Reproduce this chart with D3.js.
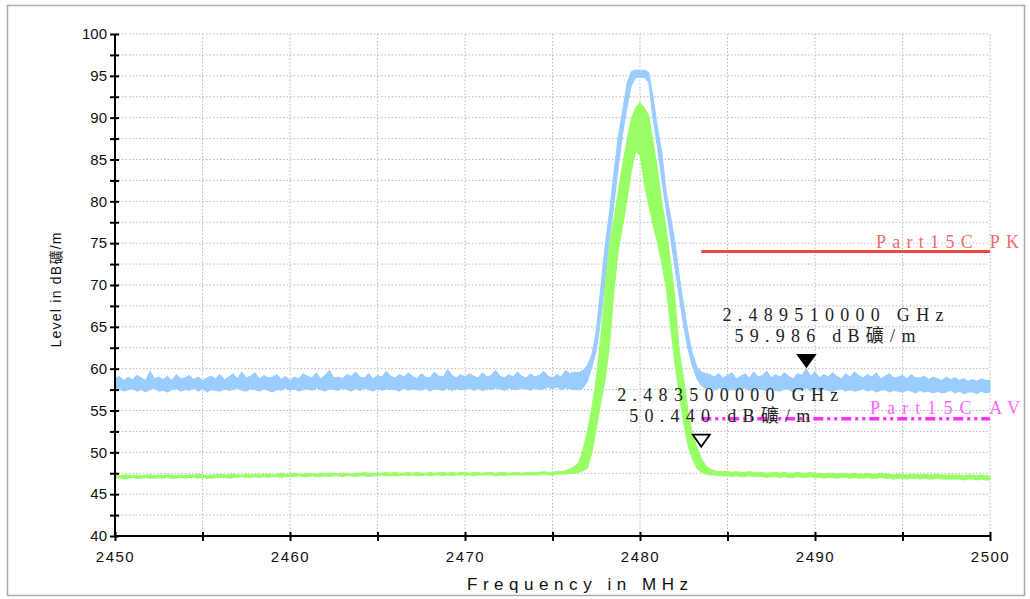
<!DOCTYPE html>
<html lang="en">
<head>
  <meta charset="UTF-8" />
  <title>Band edge scan 2450-2500 MHz</title>
  <script src="https://d3js.org/d3.v7.min.js"></script>
  <style>
    body {
      margin: 0;
      padding: 0;
      background-color: #fff;
    }
    svg {
      display: block;
    }
    .tick text {
      font-family: "Liberation Sans", Arial, sans-serif;
      font-size: 15px;
      fill: #111;
    }
    .grid line {
      stroke: #b8b8b8;
      stroke-width: 1;
      stroke-dasharray: 1.5,2;
    }
    .mk-text {
      font-family: "Liberation Serif", "DejaVu Serif", "Noto Sans CJK SC", serif;
      font-size: 18px;
      fill: #222;
    }
  </style>
</head>
<body>
  <svg id="chart" width="1030" height="599"></svg>

  <script>
    // sweep frequencies, MHz (0.25 MHz per point)
    const freqs = [
      2450,2450.25,2450.5,2450.75,2451,2451.25,2451.5,2451.75,
      2452,2452.25,2452.5,2452.75,2453,2453.25,2453.5,2453.75,
      2454,2454.25,2454.5,2454.75,2455,2455.25,2455.5,2455.75,
      2456,2456.25,2456.5,2456.75,2457,2457.25,2457.5,2457.75,
      2458,2458.25,2458.5,2458.75,2459,2459.25,2459.5,2459.75,
      2460,2460.25,2460.5,2460.75,2461,2461.25,2461.5,2461.75,
      2462,2462.25,2462.5,2462.75,2463,2463.25,2463.5,2463.75,
      2464,2464.25,2464.5,2464.75,2465,2465.25,2465.5,2465.75,
      2466,2466.25,2466.5,2466.75,2467,2467.25,2467.5,2467.75,
      2468,2468.25,2468.5,2468.75,2469,2469.25,2469.5,2469.75,
      2470,2470.25,2470.5,2470.75,2471,2471.25,2471.5,2471.75,
      2472,2472.25,2472.5,2472.75,2473,2473.25,2473.5,2473.75,
      2474,2474.25,2474.5,2474.75,2475,2475.25,2475.5,2475.75,
      2476,2476.25,2476.5,2476.75,2477,2477.25,2477.5,2477.75,
      2478,2478.25,2478.5,2478.75,2479,2479.25,2479.5,2479.75,
      2480,2480.25,2480.5,2480.75,2481,2481.25,2481.5,2481.75,
      2482,2482.25,2482.5,2482.75,2483,2483.25,2483.5,2483.75,
      2484,2484.25,2484.5,2484.75,2485,2485.25,2485.5,2485.75,
      2486,2486.25,2486.5,2486.75,2487,2487.25,2487.5,2487.75,
      2488,2488.25,2488.5,2488.75,2489,2489.25,2489.5,2489.75,
      2490,2490.25,2490.5,2490.75,2491,2491.25,2491.5,2491.75,
      2492,2492.25,2492.5,2492.75,2493,2493.25,2493.5,2493.75,
      2494,2494.25,2494.5,2494.75,2495,2495.25,2495.5,2495.75,
      2496,2496.25,2496.5,2496.75,2497,2497.25,2497.5,2497.75,
      2498,2498.25,2498.5,2498.75,2499,2499.25,2499.5,2499.75,
      2500
    ];

    // peak detector trace (blue), max / min of each bin, dBuV/m
    const peakHi = [
      58.8,59.1,58.6,59.0, 58.7,59.2,58.9,58.6, 59.7,58.8,59.0,58.7, 59.1,58.6,59.3,58.8,
      58.9,59.2,58.7,59.0, 58.6,58.9,59.1,58.8, 59.3,58.7,59.0,59.4, 58.8,59.6,58.9,59.1,
      59.5,58.8,59.2,58.9, 59.0,59.3,58.7,59.1, 58.6,59.0,58.8,59.4, 59.1,58.9,59.5,58.8,
      59.2,59.8,58.9,59.0, 58.8,59.3,59.1,59.6, 59.0,58.9,59.4,58.8, 59.2,59.0,59.7,59.1,
      58.9,59.3,59.0,59.5, 59.1,58.8,59.4,59.0, 58.9,59.6,59.1,59.0, 59.9,59.2,58.9,59.3,
      59.0,59.4,59.1,58.9, 59.5,59.0,59.2,59.8, 59.1,58.9,59.3,59.0, 59.6,59.1,58.9,59.4,
      59.0,59.2,59.7,59.1, 58.9,59.3,59.0,59.8, 59.4,59.6,
      59.5,59.8,60.4,61.7,64.4,69.5,74.5,78.6,83.2,87.6,90.7,94.0,95.5,95.7,95.6,
      95.7,95.4,92.4,88.8,85.8,81.0,78.2,75.0,71.0,67.5,64.3,61.8,60.2,59.6,59.4,
      59.3,59.0,59.4,58.9, 59.2,59.5,58.8,59.1, 59.4,58.9,59.6,59.0, 59.2,59.7,58.9,59.3,
      59.0,59.5,59.1,58.8, 59.4,59.2,60.0,59.1, 59.6,58.9,59.3,59.0, 59.5,59.1,58.8,59.4,
      59.0,59.6,59.2,58.9, 59.3,59.0,59.5,58.8, 59.1,59.4,58.9,59.0, 59.2,58.8,59.3,58.9,
      58.9,59.1,58.7,59.0, 58.8,58.6,59.0,58.7, 58.9,58.6,58.8,58.5, 58.7,58.5,58.8,58.6,
      58.6
    ];
    const peakLo = [
      57.4,57.6,57.3,57.5, 57.6,57.3,57.5,57.2, 57.5,57.7,57.3,57.4, 57.2,57.5,57.6,57.3,
      57.5,57.4,57.7,57.3, 57.6,57.2,57.5,57.4, 57.3,57.6,57.4,57.5, 57.7,57.4,57.3,57.6,
      57.5,57.3,57.6,57.4, 57.2,57.5,57.4,57.7, 57.4,57.6,57.3,57.5, 57.6,57.4,57.7,57.5,
      57.3,57.6,57.5,57.4, 57.7,57.5,57.3,57.6, 57.4,57.7,57.5,57.3, 57.6,57.4,57.6,57.5,
      57.5,57.3,57.7,57.4, 57.6,57.5,57.4,57.7, 57.3,57.6,57.5,57.4, 57.7,57.4,57.6,57.5,
      57.5,57.7,57.4,57.6, 57.4,57.6,57.5,57.7, 57.6,57.4,57.7,57.5, 57.5,57.7,57.6,57.4,
      57.7,57.5,57.6,57.8, 57.6,57.8,57.5,57.7, 57.6,57.5,
      57.5,57.7,58.5,60.2,62.2,65.8,70.5,75.3,79.5,84.0,88.0,91.2,93.8,94.8,94.8,
      94.8,94.2,89.8,86.5,82.5,79.0,75.6,72.0,68.5,65.0,62.3,60.3,58.8,58.0,57.6,
      57.6,57.4,57.7,57.5, 57.3,57.6,57.4,57.5, 57.7,57.4,57.3,57.6, 57.5,57.3,57.6,57.4,
      57.3,57.6,57.5,57.2, 57.5,57.4,57.7,57.3, 57.6,57.3,57.5,57.4, 57.2,57.5,57.6,57.3,
      57.5,57.3,57.4,57.6, 57.3,57.5,57.2,57.4, 57.5,57.2,57.4,57.3, 57.2,57.4,57.3,57.1,
      57.4,57.2,57.3,57.1, 57.3,57.1,57.2,57.4, 57.1,57.3,57.0,57.2, 57.2,57.0,57.3,57.1,
      57.2
    ];

    // average detector trace (green), max / min of each bin, dBuV/m
    const avgHi = [
      47.3,47.2,47.3,47.3, 47.2,47.3,47.2,47.3, 47.3,47.2,47.3,47.2, 47.3,47.3,47.2,47.3,
      47.2,47.3,47.3,47.4, 47.3,47.2,47.3,47.3, 47.4,47.3,47.3,47.4, 47.3,47.3,47.4,47.3,
      47.4,47.3,47.4,47.4, 47.3,47.4,47.5,47.4, 47.4,47.5,47.4,47.4, 47.5,47.4,47.4,47.5,
      47.4,47.5,47.5,47.4, 47.5,47.5,47.4,47.5, 47.5,47.6,47.5,47.5, 47.5,47.5,47.6,47.5,
      47.6,47.5,47.5,47.6, 47.5,47.6,47.5,47.5, 47.6,47.5,47.6,47.6, 47.5,47.6,47.5,47.6,
      47.6,47.5,47.6,47.6, 47.5,47.6,47.6,47.5, 47.6,47.6,47.5,47.6, 47.6,47.5,47.6,47.6,
      47.6,47.6,47.7,47.6, 47.6,47.7,
      47.7,47.8,48.0,48.3,48.8,50.3,52.6,55.3,58.8,63.5,69.5,74.5,77.8,81.0,84.3,87.2,
      89.8,91.2,91.8,91.2,90.2,87.1,83.8,79.9,76.6,72.8,68.3,62.0,58.7,54.8,52.2,50.6,
      49.3,48.4,48.0,47.8,47.7,47.7,
      47.7,47.6,47.7,47.6, 47.6,47.7,47.6,47.6, 47.6,47.5,47.6,47.6, 47.5,47.6,47.5,47.5,
      47.6,47.5,47.5,47.6, 47.5,47.5,47.4,47.5, 47.5,47.4,47.5,47.5, 47.4,47.5,47.4,47.4,
      47.5,47.4,47.4,47.5, 47.4,47.4,47.3,47.4, 47.4,47.3,47.4,47.4, 47.3,47.4,47.3,47.3,
      47.4,47.3,47.3,47.3, 47.3,47.3,47.2,47.3, 47.3,47.2,47.3,47.2,
      47.2
    ];
    const avgLo = [
      46.9,47.0,46.8,46.9, 47.0,46.9,46.9,47.0, 46.9,46.9,47.0,46.9, 47.0,46.9,46.9,47.0,
      46.9,47.0,47.0,46.9, 47.0,46.9,46.9,47.0, 47.0,47.0,46.9,47.0, 47.0,47.1,47.0,47.0,
      47.1,47.0,47.1,47.0, 47.1,47.1,47.0,47.1, 47.1,47.1,47.2,47.1, 47.1,47.2,47.1,47.1,
      47.2,47.1,47.2,47.2, 47.1,47.2,47.2,47.1, 47.2,47.2,47.1,47.2, 47.2,47.3,47.2,47.2,
      47.2,47.2,47.3,47.2, 47.3,47.2,47.2,47.3, 47.2,47.3,47.3,47.2, 47.3,47.2,47.3,47.3,
      47.3,47.3,47.2,47.3, 47.3,47.3,47.3,47.2, 47.3,47.2,47.3,47.3, 47.3,47.3,47.3,47.3,
      47.3,47.3,47.4,47.3, 47.3,47.4,
      47.4,47.4,47.5,47.5,47.6,47.8,48.1,50.0,52.7,55.8,58.6,62.5,69.0,74.0,77.0,80.0,
      83.5,86.0,85.5,82.0,79.5,77.2,75.0,72.5,69.6,65.0,60.5,56.8,53.5,50.7,49.2,48.1,
      47.6,47.4,47.3,47.3,47.2,47.2,
      47.2,47.1,47.2,47.1, 47.1,47.2,47.1,47.1, 47.1,47.0,47.1,47.1, 47.0,47.1,47.0,47.0,
      47.1,47.0,47.0,47.1, 47.0,47.0,46.9,47.0, 47.0,46.9,47.0,47.0, 46.9,47.0,46.9,46.9,
      47.0,46.9,46.9,47.0, 46.9,46.9,46.8,46.9, 46.9,46.8,46.9,46.9, 46.8,46.9,46.8,46.8,
      46.9,46.8,46.8,46.8, 46.8,46.8,46.7,46.8, 46.8,46.7,46.8,46.7,
      46.7
    ];

    // limit lines (Part 15C)
    const limits = [
      { name: "Part15C PK", level: 74, from: 2483.5, to: 2500 },
      { name: "Part15C AV", level: 54, from: 2483.5, to: 2500 }
    ];

    // markers
    const markers = [
      { freq: 2483.5,  level: 50.44,  label1: "2.483500000 GHz", label2: "50.440 dB礦/m", filled: false },
      { freq: 2489.51, level: 59.986, label1: "2.489510000 GHz", label2: "59.986 dB礦/m", filled: true }
    ];

    const xMajor = [2450, 2460, 2470, 2480, 2490, 2500];
    const xMinor = [2455, 2465, 2475, 2485, 2495];
    const yMajor = [40, 45, 50, 55, 60, 65, 70, 75, 80, 85, 90, 95, 100];
    const yMinor = [42.5, 47.5, 52.5, 57.5, 62.5, 67.5, 72.5, 77.5, 82.5, 87.5, 92.5, 97.5];

    const svg = d3.select("#chart");

    const x = d3.scaleLinear().domain([2450, 2500]).range([115, 990]);
    const y = d3.scaleLinear().domain([40, 100]).range([536, 34]);

    // outer frame
    svg.append("rect")
      .attr("x", 7.5).attr("y", 5.5)
      .attr("width", 1017).attr("height", 590)
      .attr("fill", "#fff")
      .attr("stroke", "#aaa")
      .attr("stroke-width", 1.5);

    // grid
    const grid = svg.append("g").attr("class", "grid");
    grid.selectAll(".h")
      .data(yMajor.concat(yMinor).filter(v => v > 40))
      .enter().append("line")
      .attr("x1", x(2450)).attr("x2", x(2500))
      .attr("y1", d => y(d)).attr("y2", d => y(d));
    grid.selectAll(".v")
      .data(xMajor.concat(xMinor).filter(v => v > 2450))
      .enter().append("line")
      .attr("x1", d => x(d)).attr("x2", d => x(d))
      .attr("y1", y(40)).attr("y2", y(100));

    const band = d3.area()
      .x(d => x(d.f))
      .y0(d => y(d.lo))
      .y1(d => y(d.hi));

    const peakTrace = freqs.map((f, i) => ({ f: f, lo: peakLo[i], hi: peakHi[i] }));
    const avgTrace = freqs.map((f, i) => ({ f: f, lo: avgLo[i], hi: avgHi[i] }));

    svg.append("path")
      .datum(peakTrace)
      .attr("d", band)
      .attr("fill", "#99ccff")
      .attr("stroke", "#99ccff")
      .attr("stroke-width", 1);

    svg.append("path")
      .datum(avgTrace)
      .attr("d", band)
      .attr("fill", "#99ff66")
      .attr("stroke", "#99ff66")
      .attr("stroke-width", 1);

    // limit lines
    svg.append("line")
      .attr("x1", x(limits[0].from)).attr("x2", x(limits[0].to))
      .attr("y1", y(limits[0].level)).attr("y2", y(limits[0].level))
      .attr("stroke", "#f04848").attr("stroke-width", 3);
    svg.append("line")
      .attr("x1", x(limits[1].from)).attr("x2", x(limits[1].to))
      .attr("y1", y(limits[1].level)).attr("y2", y(limits[1].level))
      .attr("stroke", "#ff33ff").attr("stroke-width", 3.5)
      .attr("stroke-dasharray", "10,4,3,4,3,4");

    svg.append("text")
      .attr("class", "mk-text")
      .attr("x", 876).attr("y", y(limits[0].level) - 4)
      .attr("textLength", 143).attr("lengthAdjust", "spacing")
      .style("fill", "#f06a6a")
      .text(limits[0].name);
    svg.append("text")
      .attr("class", "mk-text")
      .attr("x", 870).attr("y", y(limits[1].level) - 5)
      .attr("textLength", 150).attr("lengthAdjust", "spacing")
      .style("fill", "#ff66ff")
      .text(limits[1].name);

    // axes
    const yAxis = d3.axisLeft(y)
      .tickValues(yMajor)
      .tickSize(5)
      .tickPadding(3)
      .tickFormat(d3.format("d"));
    const gy = svg.append("g").attr("transform", `translate(${x(2450)},0)`).call(yAxis);

    const yAxisMinor = d3.axisLeft(y).tickValues(yMinor).tickSize(5).tickFormat("");
    const gym = svg.append("g").attr("transform", `translate(${x(2450)},0)`).call(yAxisMinor);

    const xAxis = d3.axisBottom(x)
      .tickValues(xMajor)
      .tickSize(5)
      .tickPadding(10)
      .tickFormat(d3.format("d"));
    const gx = svg.append("g").attr("transform", `translate(0,${y(40)})`).call(xAxis);

    const xAxisMinor = d3.axisBottom(x).tickValues(xMinor).tickSize(5).tickFormat("");
    const gxm = svg.append("g").attr("transform", `translate(0,${y(40)})`).call(xAxisMinor);

    [gy, gym].forEach(g => {
      g.selectAll(".tick line").attr("x1", 4).attr("x2", -5);
    });
    [gx, gxm].forEach(g => {
      g.selectAll(".tick line").attr("y1", -4).attr("y2", 5);
    });
    [gy, gym, gx, gxm].forEach(g => {
      g.select(".domain").attr("stroke", "#000").attr("stroke-width", 2);
      g.selectAll(".tick line").attr("stroke", "#000").attr("stroke-width", 2);
    });
    gym.select(".domain").remove();
    gxm.select(".domain").remove();
    gy.select(".domain").attr("d", `M0,${y(40)}V${y(100)}`);
    gx.select(".domain").attr("d", `M${x(2450)},0H${x(2500)}`);
    gx.selectAll(".tick text").style("letter-spacing", "1.5px");

    // axis titles
    svg.append("text")
      .attr("transform", `translate(61,${(y(40) + y(100)) / 2 + 5}) rotate(-90)`)
      .attr("text-anchor", "middle")
      .attr("textLength", 115).attr("lengthAdjust", "spacing")
      .style("font-family", "'Liberation Sans', Arial, 'Noto Sans CJK SC', sans-serif")
      .style("font-size", "14px")
      .style("fill", "#111")
      .text("Level in dB礦/m");

    svg.append("text")
      .attr("x", 467).attr("y", 590)
      .attr("textLength", 221).attr("lengthAdjust", "spacing")
      .style("font-family", "'Liberation Sans', Arial, sans-serif")
      .style("font-size", "17px")
      .style("fill", "#111")
      .text("Frequency in MHz");

    // markers
    const mk = svg.selectAll(".marker")
      .data(markers)
      .enter().append("g")
      .attr("class", "marker")
      .attr("transform", d => `translate(${x(d.freq)},${y(d.level)})`);

    mk.append("path")
      .attr("d", "M0,-2L-8.5,-14L8.5,-14Z")
      .attr("fill", d => d.filled ? "#000" : "#fff")
      .attr("stroke", "#000")
      .attr("stroke-width", 1.8);

    mk.append("text")
      .attr("class", "mk-text")
      .attr("x", -84).attr("y", -48)
      .attr("textLength", 221).attr("lengthAdjust", "spacing")
      .text(d => d.label1);

    mk.append("text")
      .attr("class", "mk-text")
      .attr("x", -72).attr("y", -27)
      .attr("textLength", 181).attr("lengthAdjust", "spacing")
      .text(d => d.label2);
  </script>
</body>
</html>
